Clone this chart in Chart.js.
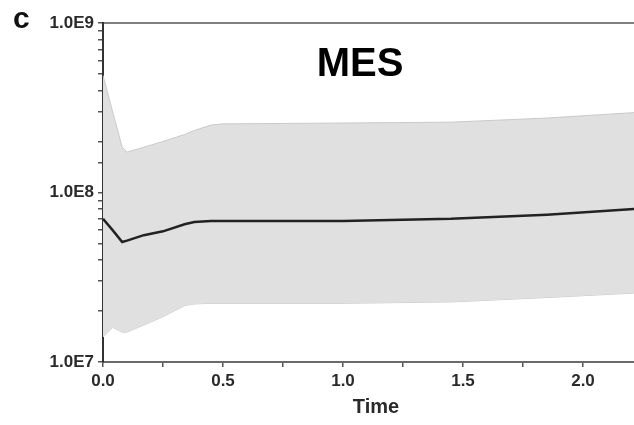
<!DOCTYPE html>
<html>
<head>
<meta charset="utf-8">
<script src="https://cdn.jsdelivr.net/npm/chart.js@4"></script>
<style>
	body { margin: 0; background: #fff; }
	#wrap { position: relative; width: 634px; height: 425px; overflow: hidden; }
	#panel { position: absolute; left: 13px; top: 3px; font: bold 30px "Liberation Sans", Arial, sans-serif; color: #111; line-height: 30px; }
	#name { position: absolute; left: 300px; width: 120px; top: 40px; text-align: center; font: bold 40px "Liberation Sans", Arial, sans-serif; color: #000; }
</style>
</head>
<body>
<div id="wrap">
	<canvas id="mesChart" width="649" height="425"></canvas>
	<div id="panel">c</div>
	<div id="name">MES</div>
</div>
<script>
// values (time in the x unit, counts on a log axis)
const times = [0, 0.04, 0.08, 0.1, 0.17, 0.25, 0.34, 0.38, 0.45, 0.5, 1.0, 1.45, 1.85, 2.28];
const upper = [4.9e8, 3.0e8, 1.85e8, 1.73e8, 1.85e8, 2.0e8, 2.2e8, 2.32e8, 2.5e8, 2.54e8, 2.57e8, 2.6e8, 2.75e8, 3.0e8];
const median = [7.0e7, 6.0e7, 5.1e7, 5.2e7, 5.6e7, 5.9e7, 6.5e7, 6.7e7, 6.8e7, 6.8e7, 6.8e7, 7.0e7, 7.4e7, 8.1e7];
const lower = [1.4e7, 1.6e7, 1.5e7, 1.5e7, 1.65e7, 1.85e7, 2.15e7, 2.2e7, 2.22e7, 2.22e7, 2.22e7, 2.26e7, 2.4e7, 2.58e7];
const yTicks = [1e7, 1e8, 1e9];

const pts = (vals) => times.map((t, i) => ({ x: t, y: vals[i] }));
const tickFont = { family: "'Liberation Sans', Arial, sans-serif", size: 17, weight: "bold" };

const ctx = document.getElementById("mesChart").getContext("2d");
new Chart(ctx, {
	type: "line",
	data: {
		datasets: [
			{ data: pts(lower), borderColor: "#c9c9c9", borderWidth: 1, pointRadius: 0, fill: false, order: 2 },
			{ data: pts(upper), borderColor: "#c9c9c9", borderWidth: 1, pointRadius: 0, fill: "-1", backgroundColor: "#e0e0e0", order: 1 },
			{ data: pts(median), borderColor: "#222", borderWidth: 2.5, pointRadius: 0, fill: false, order: 0 },
		],
	},
	options: {
		responsive: false,
		animation: false,
		layout: { padding: { top: 23, right: 0, bottom: 0, left: 0 } },
		plugins: { legend: { display: false }, tooltip: { enabled: false } },
		scales: {
			x: {
				type: "linear",
				min: 0,
				max: 2.275,
				border: { color: "#6a6a6a", width: 2 },
				grid: { drawOnChartArea: false, tickLength: 5, color: "#555", lineWidth: 1.5 },
				ticks: {
					stepSize: 0.25,
					includeBounds: false,
					autoSkip: false,
					maxRotation: 0,
					padding: 4,
					color: "#2a2a2a",
					font: tickFont,
					callback: (v) => (Math.abs(v * 2 - Math.round(v * 2)) < 1e-6 ? v.toFixed(1) : ""),
				},
				title: { display: true, text: "Time", color: "#2a2a2a", padding: { top: 0, bottom: 6 }, font: { family: "'Liberation Sans', Arial, sans-serif", size: 20, weight: "bold" } },
				afterFit: (s) => { s.height = 63; },
			},
			x2: {
				type: "linear",
				position: "top",
				min: 0,
				max: 2.275,
				border: { color: "#808080", width: 2 },
				grid: { display: false },
				ticks: { display: false },
				afterFit: (s) => { s.height = 0; },
			},
			y: {
				type: "logarithmic",
				min: 1e7,
				max: 1e9,
				border: { color: "#333", width: 2 },
				grid: { drawOnChartArea: false, tickLength: 5, color: "#555", lineWidth: 1.5 },
				ticks: {
					autoSkip: false,
					padding: 4,
					color: "#2a2a2a",
					font: tickFont,
					callback: (v) => (yTicks.includes(v) ? "1.0E" + Math.round(Math.log10(v)) : ""),
				},
				afterFit: (s) => { s.width = 103; },
			},
		},
	},
});
</script>
</body>
</html>
